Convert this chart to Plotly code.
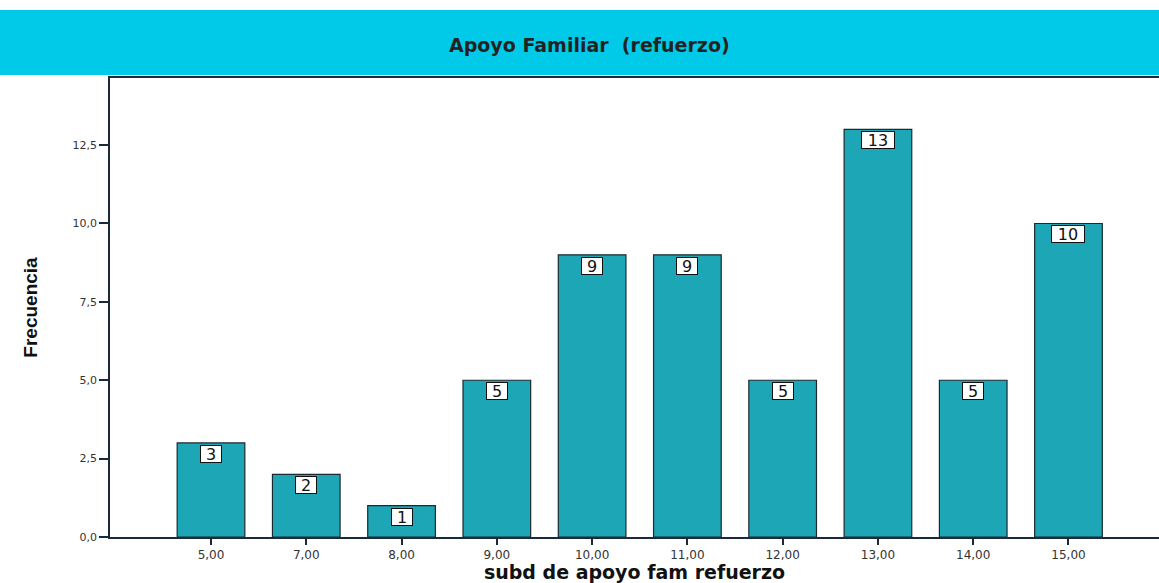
import plotly.graph_objects as go

categories = ["5,00", "7,00", "8,00", "9,00", "10,00", "11,00", "12,00", "13,00", "14,00", "15,00"]
frequencies = [3, 2, 1, 5, 9, 9, 5, 13, 5, 10]
y_ticks = [0, 2.5, 5, 7.5, 10, 12.5]

title_text = "Apoyo Familiar  (refuerzo)"
x_title = "subd de apoyo fam refuerzo"
y_title = "Frecuencia"

bar_color = "#1DA7B6"
band_color = "#00CAE8"

fig = go.Figure()
fig.add_trace(go.Bar(
    x=categories, y=frequencies, width=0.71,
    marker=dict(color=bar_color, line=dict(color="#1a2a30", width=1.2)),
    showlegend=False, hoverinfo="x+y",
))

for c, v in zip(categories, frequencies):
    s = str(v)
    fig.add_annotation(
        x=c, y=v, xref="x", yref="y", text=s, showarrow=False,
        yanchor="top", yshift=-2,
        width=12 * len(s) + 8, height=16,
        font=dict(family="DejaVu Sans", size=16, color="#111"),
        bgcolor="white", bordercolor="#111", borderwidth=1, borderpad=0,
    )

# title band
fig.add_shape(type="rect", xref="paper", yref="paper",
              x0=-0.11, x1=1.01, y0=1.0065, y1=1.148,
              fillcolor=band_color, line=dict(width=0), layer="below")
fig.add_annotation(xref="paper", yref="paper", x=0.457, y=1.072,
                   text="<b>" + title_text + "</b>", showarrow=False,
                   xanchor="center", yanchor="middle",
                   font=dict(family="DejaVu Sans", size=19, color="#222"))

fig.update_layout(
    width=1159, height=583,
    margin=dict(l=110, r=0, t=78, b=46, autoexpand=False),
    paper_bgcolor="white", plot_bgcolor="white",
    separators=",.",
    xaxis=dict(
        type="category", range=[-1.06, 9.95], automargin=False,
        showline=True, linecolor="#1a2a3a", linewidth=1.5, mirror=True,
        ticks="outside", ticklen=6, tickcolor="#1a2a3a", tickwidth=1.5,
        showgrid=False, zeroline=False,
        tickfont=dict(family="DejaVu Sans", size=12, color="#333"),
        title=dict(text="<b>" + x_title + "</b>", standoff=8,
                   font=dict(family="DejaVu Sans", size=19, color="#111")),
    ),
    yaxis=dict(
        range=[0, 14.64], automargin=False,
        tickvals=y_ticks, tickformat=".1f",
        showline=True, linecolor="#1a2a3a", linewidth=1.5,
        ticks="outside", ticklen=9, tickcolor="#1a2a3a", tickwidth=1.5,
        showgrid=False, zeroline=False,
        tickfont=dict(family="DejaVu Sans", size=11, color="#333"),
        title=dict(text="<b>" + y_title + "</b>", standoff=30,
                   font=dict(family="Liberation Sans Narrow, Arial Narrow, Liberation Sans", size=19, color="#111")),
    ),
)

fig.write_html("out.html", config={"displayModeBar": False},
               post_script="document.body.style.margin='0';document.body.style.padding='0';")
